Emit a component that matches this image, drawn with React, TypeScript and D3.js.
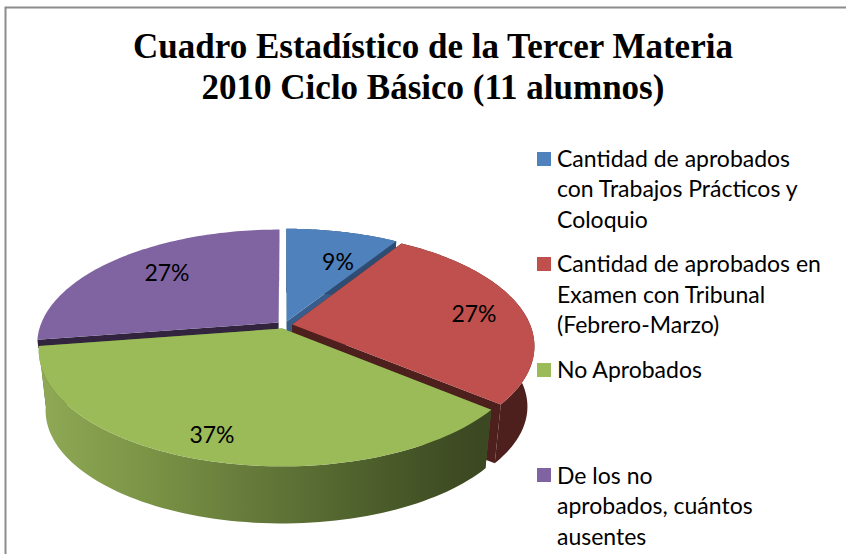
import React from "react";
import * as d3 from "d3";

const titleLines = ["Cuadro Estadístico de la Tercer Materia", "2010 Ciclo Básico (11 alumnos)"];
const sliceValues = [9, 27, 36.6, 27.4];
const sliceLabels = ["9%", "27%", "37%", "27%"];
const topColors = ["#4f81bd", "#c0504d", "#9bbb59", "#8064a2"];
const cutColors = ["#385d8a", "#4d1f1d", "#4f6030", "#32243f"];
const wallFills = ["#2f4d73", "#4d1f1d", "url(#greenWall)", "none"];
const cutDepths = [1, 1, 1, 0.14];
const labelPos: [number, number][] = [[338, 261], [474, 313], [212, 434], [167, 272]];
const legendRows = [
  { y: 152, lines: ["Cantidad de aprobados", "con Trabajos Prácticos y", "Coloquio"], base: [166.5, 197, 227.5] },
  { y: 257, lines: ["Cantidad de aprobados en", "Examen con Tribunal", "(Febrero-Marzo)"], base: [271.5, 302.5, 332.5] },
  { y: 363, lines: ["No Aprobados"], base: [377.5] },
  { y: 468, lines: ["De los no", "aprobados, cuántos", "ausentes"], base: [483.5, 513.5, 544.5] },
];
const wallStops: [number, string][] = [
  [0, "#8fa956"], [0.25, "#7a9345"], [0.5, "#64783a"], [0.75, "#4d5f2b"], [0.95, "#3e4b23"], [1, "#3c4822"],
];

const cx = 284.5, cy = 325, rx = 238, ry = 111, k = 0.184, explode = 0.033, depth = 61, taper = 0.028;

// Perspective projection of a point on the unit disc. z = 0 top face, z = 1 bottom face.
function project(u: number, v: number, z: number): [number, number] {
  const d = 1 - k * v;
  const s = 1 - taper * z;
  return [cx + (rx * u * s) / d, cy + (ry * v * s) / d + depth * z];
}

const lineGen = d3.line<[number, number]>().x((p) => p[0]).y((p) => p[1]);
const pie = d3.pie<number>().sort(null).value((d) => d);

function slicePaths(start: number, end: number, cutZ: number) {
  const mid = (start + end) / 2;
  const ox = Math.sin(mid) * explode, oy = -Math.cos(mid) * explode;
  const steps = d3.range(0, 81).map((i) => start + ((end - start) * i) / 80);
  const rim = (z: number) =>
    steps.map((a) => project(ox + Math.sin(a), oy - Math.cos(a), z));
  const apex = (z: number) => project(ox, oy, z);
  const top = lineGen([apex(0), ...rim(0)]) + "Z";
  const wall = lineGen([...rim(0), ...rim(1).reverse()]) + "Z";
  const startP = (z: number) => project(ox + Math.sin(start), oy - Math.cos(start), z);
  const endP = (z: number) => project(ox + Math.sin(end), oy - Math.cos(end), z);
  const cutA = lineGen([apex(0), startP(0), startP(cutZ), apex(cutZ)]) + "Z";
  const cutB = lineGen([apex(0), endP(0), endP(cutZ), apex(cutZ)]) + "Z";
  return { top, wall, cutA, cutB };
}

export default function App() {
  const arcs = pie(sliceValues);
  const order = [3, 0, 1, 2];
  const sans = "Lato, 'Open Sans', sans-serif";
  return (
    <svg width={846} height={554} style={{ position: "absolute", left: 0, top: 0, background: "#fff" }}>
      <defs>
        <linearGradient id="greenWall" gradientUnits="userSpaceOnUse" x1={40} x2={480} y1={0} y2={0}>
          {wallStops.map(([o, c]) => (
            <stop key={o} offset={o} stopColor={c} />
          ))}
        </linearGradient>
      </defs>
      <path d="M5.5 554V7.5H846" fill="none" stroke="#8c8c8c" strokeWidth={2} />
      {titleLines.map((t, i) => (
        <text key={t} x={433} y={58 + i * 41} textAnchor="middle" fontFamily="'Liberation Serif', serif"
          fontWeight="bold" fontSize={35} fill="#000">{t}</text>
      ))}
      {order.map((i) => {
        const p = slicePaths(arcs[i].startAngle, arcs[i].endAngle, cutDepths[i]);
        return (
          <g key={i}>
            <path d={p.cutA} fill={cutColors[i]} />
            <path d={p.cutB} fill={cutColors[i]} />
            <path d={p.wall} fill={wallFills[i]} />
            <path d={p.top} fill={topColors[i]} />
          </g>
        );
      })}
      {sliceLabels.map((l, i) => (
        <text key={i} x={labelPos[i][0]} y={labelPos[i][1]} textAnchor="middle" dominantBaseline="central"
          fontFamily={sans} fontSize={23} fill="#000">{l}</text>
      ))}
      {legendRows.map((r, i) => (
        <g key={i}>
          <rect x={537} y={r.y} width={14} height={14} fill={topColors[i]} />
          {r.lines.map((t, j) => (
            <text key={t} x={557} y={r.base[j]} fontFamily={sans} fontSize={23} fill="#000">{t}</text>
          ))}
        </g>
      ))}
    </svg>
  );
}
